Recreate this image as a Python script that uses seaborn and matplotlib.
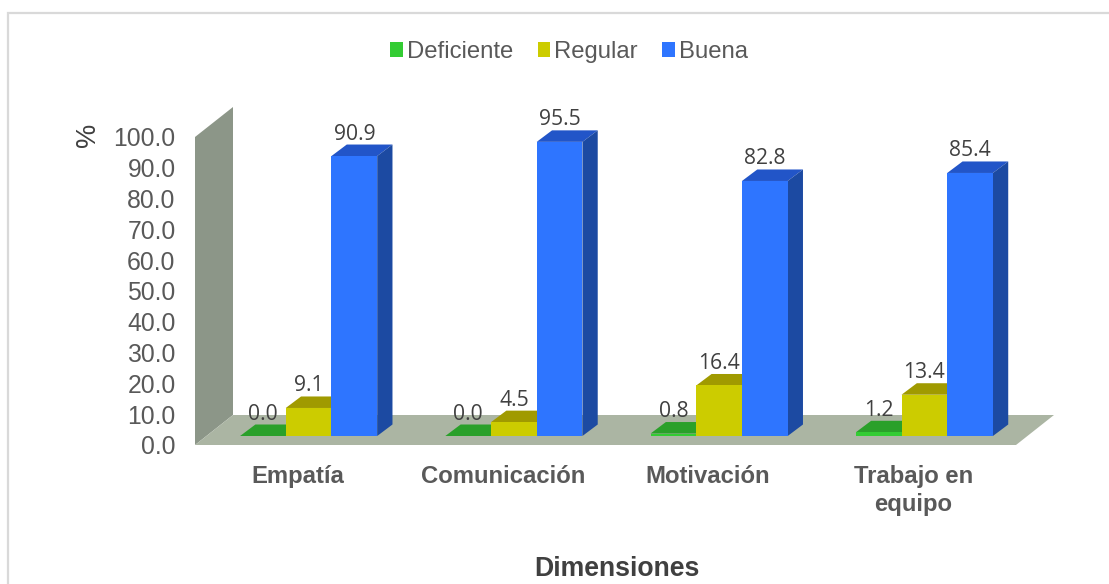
import matplotlib
matplotlib.use("Agg")
import matplotlib.pyplot as plt
from matplotlib.patches import Polygon, Rectangle
import pandas as pd
import seaborn as sns

categories = ["Empatía", "Comunicación", "Motivación", "Trabajo en\nequipo"]
series_names = ["Deficiente", "Regular", "Buena"]
deficiente = [0.0, 0.0, 0.8, 1.2]
regular = [9.1, 4.5, 16.4, 13.4]
buena = [90.9, 95.5, 82.8, 85.4]
y_ticks = [0, 10, 20, 30, 40, 50, 60, 70, 80, 90, 100]

front = {"Deficiente": "#33CC33", "Regular": "#CCCC00", "Buena": "#2E75FF"}
top = {"Deficiente": "#2AA02A", "Regular": "#A09A00", "Buena": "#2255C8"}
side = {"Deficiente": "#1F7F1F", "Regular": "#8A8500", "Buena": "#1C4AA2"}
FLOOR, WALL, GREY = "#ABB5A3", "#8C9688", "#595959"

W, H = 1109, 584
sns.set_theme(style="white")
plt.rcParams["font.family"] = ["Liberation Sans", "DejaVu Sans"]
fig = plt.figure(figsize=(W / 100, H / 100), dpi=100, facecolor="white")
fig.add_artist(Rectangle((7.5 / W, -0.05), 1.1, 1.05 - 13 / H, transform=fig.transFigure,
                         facecolor="white", edgecolor="#D9D9D9", linewidth=1.6, zorder=-5))


def axes_px(left, right, bottom, upper):
    return fig.add_axes([left / W, 1 - bottom / H, (right - left) / W, (bottom - upper) / H])


# front plane of the chart box: carries the scale and the tick labels
L, R, B, T = 195, 1016, 445, 137
ax = axes_px(L, R, B, T)
ax.set_xlim(-0.5, 3.5)
ax.set_ylim(0, 100)
ax.patch.set_alpha(0)
sns.despine(ax=ax, left=True, bottom=True, right=True, top=True)
ax.set_yticks(y_ticks)
ax.set_yticklabels([f"{v:.1f}" for v in y_ticks], fontsize=17.8, color=GREY)
ax.set_xticks(range(len(categories)))
ax.set_xticklabels(categories, fontsize=17.2, fontweight="bold", color=GREY, linespacing=1.25)
ax.tick_params(axis="both", length=0)
ax.tick_params(axis="x", pad=14.5)
ax.tick_params(axis="y", pad=14)
ux = (R - L) / 4
uy = (B - T) / 100

# walls of the box, expressed in the scale of the axes
box_dx, box_dy = 38 / ux, 30 / uy
ax.add_patch(Polygon([(-0.5, 0), (-0.5 + box_dx, box_dy), (-0.5 + box_dx, 100 + box_dy), (-0.5, 100)],
                     closed=True, facecolor=WALL, edgecolor="none", clip_on=False, zorder=0))
ax.add_patch(Polygon([(-0.5, 0), (3.5, 0), (3.5 + box_dx, box_dy), (-0.5 + box_dx, box_dy)],
                     closed=True, facecolor=FLOOR, edgecolor="none", clip_on=False, zorder=0))

# bars sit inside the depth of the box
off_x, off_y = 11, 9
bx = axes_px(L + off_x, R + off_x, B - off_y, T - off_y)
data = pd.DataFrame({
    "Dimensión": categories * 3,
    "Nivel": [n for n in series_names for _ in categories],
    "Valor": deficiente + regular + buena,
})
sns.barplot(data=data, x="Dimensión", y="Valor", hue="Nivel", hue_order=series_names,
            palette=front, width=0.668, gap=0, saturation=1, dodge=True, legend=False, ax=bx)
bx.set_xlim(-0.5, 3.5)
bx.set_ylim(0, 100)
bx.axis("off")
bx.patch.set_alpha(0)

depth_x, depth_y = 15.3 / ux, 11.5 / uy
z = 3
bars = []
for container, name in zip(bx.containers, series_names):
    vals = data.loc[data["Nivel"] == name, "Valor"].tolist()
    for patch, value in zip(container.patches, vals):
        bars.append((patch.get_x(), patch, name, value))
bars.sort(key=lambda b: b[0])
for x0, patch, name, value in bars:
    w, h = patch.get_width(), patch.get_height()
    patch.set_linewidth(0)
    bx.add_patch(Polygon([(x0, h), (x0 + w, h), (x0 + w + depth_x, h + depth_y), (x0 + depth_x, h + depth_y)],
                         closed=True, facecolor=top[name], edgecolor="none", clip_on=False, zorder=z))
    if h > 0:
        bx.add_patch(Polygon([(x0 + w, 0), (x0 + w + depth_x, depth_y), (x0 + w + depth_x, h + depth_y), (x0 + w, h)],
                             closed=True, facecolor=side[name], edgecolor="none", clip_on=False, zorder=z))
    patch.set_zorder(z + 1)
    patch.set_clip_on(False)
    bx.annotate(f"{value:.1f}", (x0 + w / 2, h), xytext=(0, 22 * 0.72), textcoords="offset points",
                ha="center", va="center", fontsize=15.2, family="Open Sans", color="#404040",
                zorder=50, annotation_clip=False)
    z += 2

handles = [Rectangle((0, 0), 1, 1, facecolor=front[n], edgecolor="none") for n in series_names]
fig.legend(handles, series_names, loc="center", bbox_to_anchor=(569 / W, 1 - 52 / H), ncol=3,
           frameon=False, fontsize=17.2, labelcolor=GREY, handlelength=0.54, handleheight=0.54,
           handletextpad=0.15, columnspacing=1.02, borderpad=0, borderaxespad=0)

fig.text(88 / W, 1 - 135 / H, "%", rotation=90, ha="center", va="center", fontsize=19.5, color="#404040")
fig.text(617 / W, 1 - 569 / H, "Dimensiones", ha="center", va="center", fontsize=19.2,
         fontweight="bold", color="#404040")

fig.savefig("out.png", dpi=100, facecolor="white")
